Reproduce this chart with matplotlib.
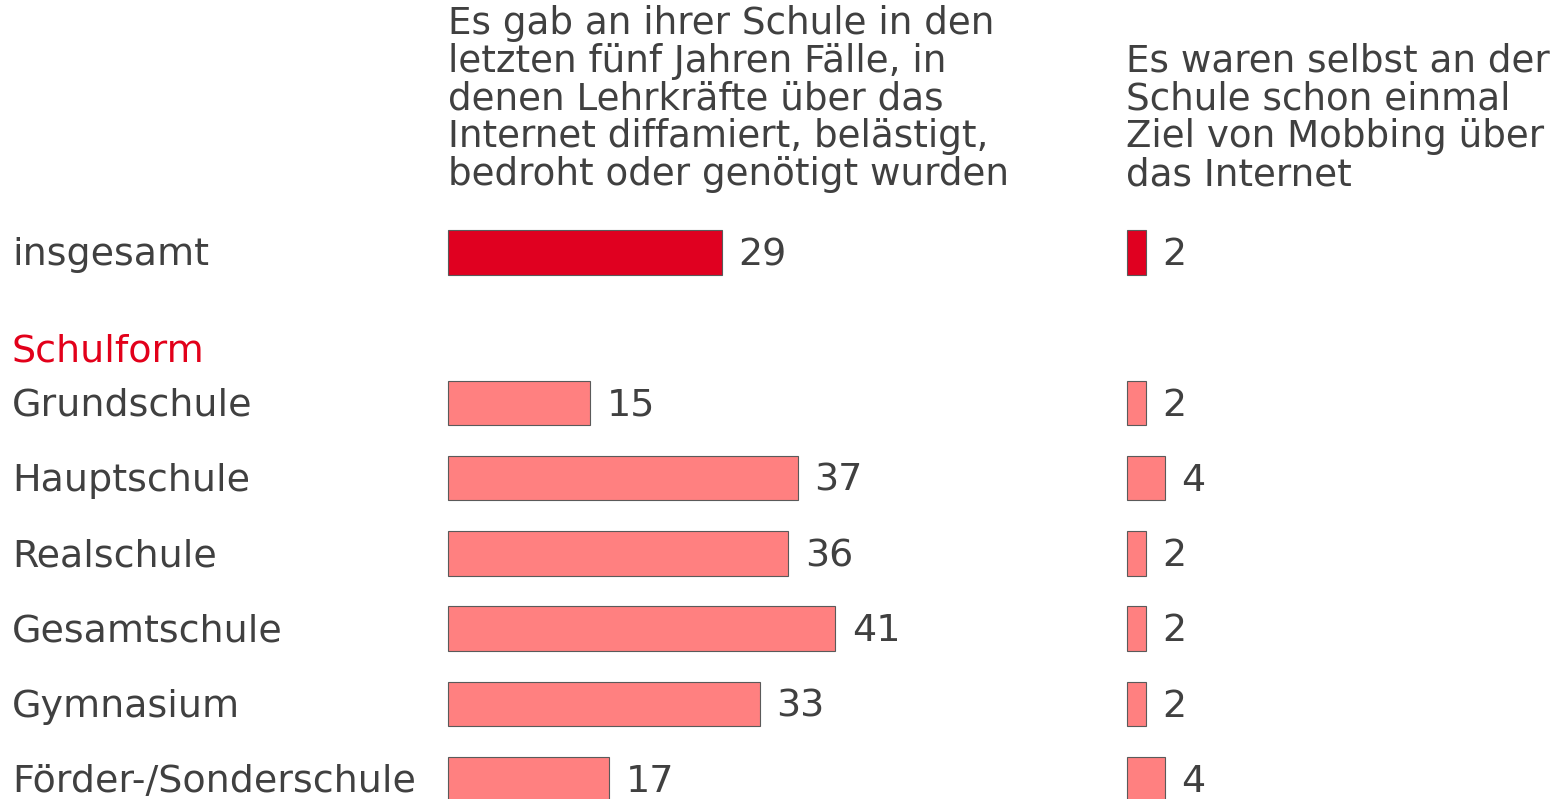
import matplotlib
matplotlib.use("Agg")
import matplotlib.pyplot as plt
import matplotlib.transforms as mtransforms

categories = ["insgesamt", "Grundschule", "Hauptschule", "Realschule",
              "Gesamtschule", "Gymnasium", "Förder-/Sonderschule"]
positions = [-2, 0, 1, 2, 3, 4, 5]
group_label = "Schulform"
group_pos = -0.72
left_values = [29, 15, 37, 36, 41, 33, 17]
right_values = [2, 2, 4, 2, 2, 2, 4]
left_title = ("Es gab an ihrer Schule in den\nletzten fünf Jahren Fälle, in\n"
              "denen Lehrkräfte über das\nInternet diffamiert, belästigt,\n"
              "bedroht oder genötigt wurden")
right_title = ("Es waren selbst an der\nSchule schon einmal\n"
               "Ziel von Mobbing über\ndas Internet")

W, H = 1557, 799
DPI = 100
fig = plt.figure(figsize=(W / DPI, H / DPI), dpi=DPI)
fig.patch.set_facecolor("white")

TEXT = "#404040"
DARK = "#E00020"
LIGHT = "#FF8080"
EDGE = "#5A5A5A"
FS = 27.4
TFS = 26.8

px_per_unit = 9.45
row_px = 75.2
y0_px = 403  # pixel y of row position 0
ytop = -y0_px / row_px
ybot = (H - y0_px) / row_px


def make_ax(x_px, width_px):
    ax = fig.add_axes([x_px / W, 0, width_px / W, 1])
    ax.set_xlim(0, width_px / px_per_unit)
    ax.set_ylim(ybot, ytop)
    ax.axis("off")
    return ax


ax1 = make_ax(448, 600)
ax2 = make_ax(1127, 420)

colors = [DARK] + [LIGHT] * (len(categories) - 1)
for ax, vals in ((ax1, left_values), (ax2, right_values)):
    ax.barh(positions, vals, height=0.59, color=colors, edgecolor=EDGE,
            linewidth=0.8, clip_on=False)
    for p, v in zip(positions, vals):
        ax.annotate(f"{v}", (v, p), xytext=(12, -2), textcoords="offset points",
                    va="center", ha="left", fontsize=FS, color=TEXT)

trans = mtransforms.blended_transform_factory(fig.transFigure, ax1.transData)
off = mtransforms.ScaledTranslation(0, -2 / 72, fig.dpi_scale_trans)
for c, p in zip(categories, positions):
    ax1.text(12 / W, p, c, transform=trans + off, fontsize=FS, color=TEXT,
             va="center", ha="left", clip_on=False)
ax1.text(12 / W, group_pos, group_label, transform=trans + off, fontsize=FS,
         color="#E2001A", va="center", ha="left", clip_on=False)

fig.text(448 / W, 1 - 5 / H, left_title, fontsize=TFS, color=TEXT,
         va="top", ha="left", linespacing=1.025)
fig.text(1126 / W, 1 - 43 / H, right_title, fontsize=TFS, color=TEXT,
         va="top", ha="left", linespacing=1.025)

fig.savefig("out.png", dpi=DPI, facecolor="white")
